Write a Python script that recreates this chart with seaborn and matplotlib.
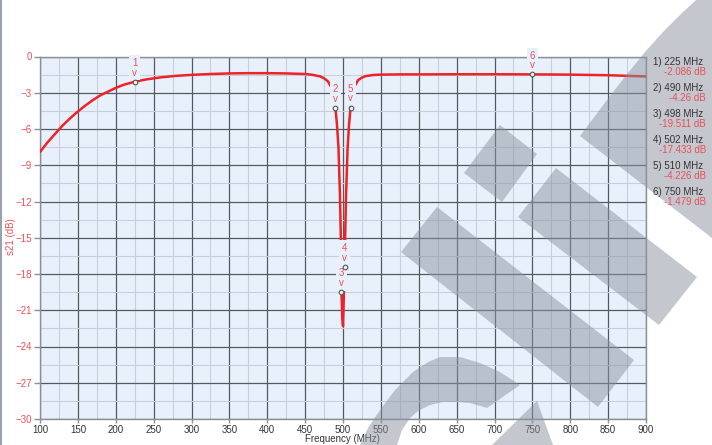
import matplotlib
matplotlib.use("Agg")
import matplotlib.pyplot as plt
from matplotlib.patches import Polygon, Rectangle
from matplotlib.ticker import MultipleLocator
import seaborn as sns
import pandas as pd

# Measured transmission of the notch filter
freq_mhz = [100, 110, 120, 130, 140, 150, 160, 170, 180, 190, 200, 210, 225, 240,
            260, 280, 300, 325, 350, 375, 400, 425, 450, 460, 470, 475, 480, 485,
            490, 492, 494, 496, 497, 498, 499, 500, 501, 502, 503, 504, 506, 508,
            510, 515, 520, 525, 530, 540, 550, 575, 600, 650, 700, 750, 800, 850, 900]
s21_db = [-7.9, -7.1, -6.4, -5.7, -5.1, -4.55, -4.05, -3.6, -3.2, -2.9, -2.6, -2.35,
          -2.086, -1.9, -1.72, -1.6, -1.52, -1.45, -1.4, -1.38, -1.38, -1.4, -1.45,
          -1.52, -1.65, -1.8, -2.05, -2.6, -4.26, -5.6, -7.5, -11.5, -14.5, -19.511,
          -21.5, -22.3, -20.0, -17.433, -14.5, -11.5, -7.7, -5.6, -4.226, -2.5, -1.95,
          -1.75, -1.62, -1.53, -1.5, -1.48, -1.48, -1.47, -1.47, -1.479, -1.5, -1.55,
          -1.65]

# Markers
marker_ids = [1, 2, 3, 4, 5, 6]
marker_freq = [225, 490, 498, 502, 510, 750]
marker_db = [-2.086, -4.26, -19.511, -17.433, -4.226, -1.479]
marker_freq_text = ["225", "490", "498", "502", "510", "750"]
marker_db_text = ["-2.086", "-4.26", "-19.511", "-17.433", "-4.226", "-1.479"]

x_ticks = list(range(100, 901, 50))
y_ticks = list(range(-30, 1, 3))

W, H = 712, 445
PLOT_BG = "#e8f0fb"
TRACE = "#ee2228"
LABEL_RED = "#e8505a"
DARK = "#333333"

sns.set_style("ticks")
plt.rcParams["font.family"] = ["Liberation Sans", "DejaVu Sans"]

fig = plt.figure(figsize=(W / 100, H / 100), dpi=100)
fig.patch.set_facecolor("white")
ax = fig.add_axes([40 / W, 1 - 419 / H, 606 / W, (419 - 56.5) / H])
ax.set_facecolor(PLOT_BG)

df = pd.DataFrame({"Frequency (MHz)": freq_mhz, "s21 (dB)": s21_db})
sns.lineplot(data=df, x="Frequency (MHz)", y="s21 (dB)", ax=ax, color=TRACE,
             linewidth=1.8, zorder=4)

ax.set_xlim(100, 900)
ax.set_ylim(-30, 0)
ax.set_xticks(x_ticks)
ax.set_yticks(y_ticks)
ax.xaxis.set_minor_locator(MultipleLocator(25))
ax.yaxis.set_minor_locator(MultipleLocator(1.5))
ax.grid(which="major", color="#555a60", linewidth=0.9, zorder=1)
ax.grid(which="minor", color="#c8cfd8", linewidth=0.8, zorder=0.5)
ax.set_axisbelow(True)
for s in ax.spines.values():
    s.set_color("#8a8f96")
    s.set_linewidth(1.0)
ax.tick_params(axis="y", which="major", colors="#8a8f96", labelcolor=LABEL_RED,
               labelsize=7, length=4, width=1, pad=2)
ax.tick_params(axis="x", which="major", colors="#8a8f96", labelcolor=DARK,
               labelsize=7, length=3, width=1, pad=1.5)
ax.tick_params(which="minor", length=0)

ax.set_xlabel("Frequency (MHz)", fontsize=7, color=DARK)
ax.xaxis.set_label_coords((342 - 40) / 606, -(444.5 - 419) / (419 - 56.5))
ax.xaxis.label.set_verticalalignment("bottom")
ax.set_ylabel("s21 (dB)", fontsize=7, color=LABEL_RED)
ax.yaxis.set_label_coords(-(40 - 11) / 606, (419 - 237) / (419 - 56.5))
ax.yaxis.label.set_verticalalignment("center")

# Marker symbols and stacked "n / v" labels
ax.scatter(marker_freq, marker_db, s=11, facecolor="#f4f4f4", edgecolor="#555555",
           linewidth=0.8, zorder=6)
for n, f, v in zip(marker_ids, marker_freq, marker_db):
    ax.annotate(f"{n}\nv", xy=(f, v), xytext=(0, 3), textcoords="offset points",
                ha="center", va="bottom", fontsize=7, color=LABEL_RED,
                linespacing=0.95, annotation_clip=False, zorder=5,
                bbox=dict(boxstyle="square,pad=0.3", fc=PLOT_BG, ec="none"))

# Marker readout on the right
for i, (n, ft, dt) in enumerate(zip(marker_ids, marker_freq_text, marker_db_text)):
    y0 = 62 + 26 * i
    fig.text(653 / W, 1 - y0 / H, f"{n}) {ft} MHz", fontsize=7, color=DARK,
             ha="left", va="center", zorder=5)
    fig.text(706 / W, 1 - (y0 + 10) / H, f"{dt} dB", fontsize=7, color=LABEL_RED,
             ha="right", va="center", zorder=5)

# Background logo overlay
def px_poly(points):
    return Polygon([(x / W, 1 - y / H) for x, y in points], closed=True,
                   transform=fig.transFigure, facecolor="#8a939f", alpha=0.5,
                   edgecolor="none", zorder=2)

shapes = [
    [(464, 173), (500, 125), (537, 154), (502, 202)],
    [(401, 252), (437, 207), (634, 360), (598, 407)],
    [(518, 217), (556, 168), (697, 277), (659, 325)],
    [(580, 136), (613, 92), (628, 73), (645, 52), (663, 32), (681, 14), (696, 0),
     (712, 0), (712, 238)],
    [(360, 445), (368, 428), (380, 410), (395, 390), (413, 372), (428, 362),
     (440, 357), (460, 357), (480, 363), (500, 372), (520, 385), (487, 408),
     (470, 403), (457, 402), (443, 402), (430, 405), (418, 411), (410, 418),
     (402, 430), (397, 445)],
    [(492, 445), (537, 401), (553, 445)],
]
for pts in shapes:
    fig.add_artist(px_poly(pts))

# Window frame strip on the left edge
fig.add_artist(Rectangle((0, 0), 2 / W, 1, transform=fig.transFigure,
                         facecolor="#9aa0b4", edgecolor="none", zorder=3))

fig.savefig("out.png", dpi=100)
